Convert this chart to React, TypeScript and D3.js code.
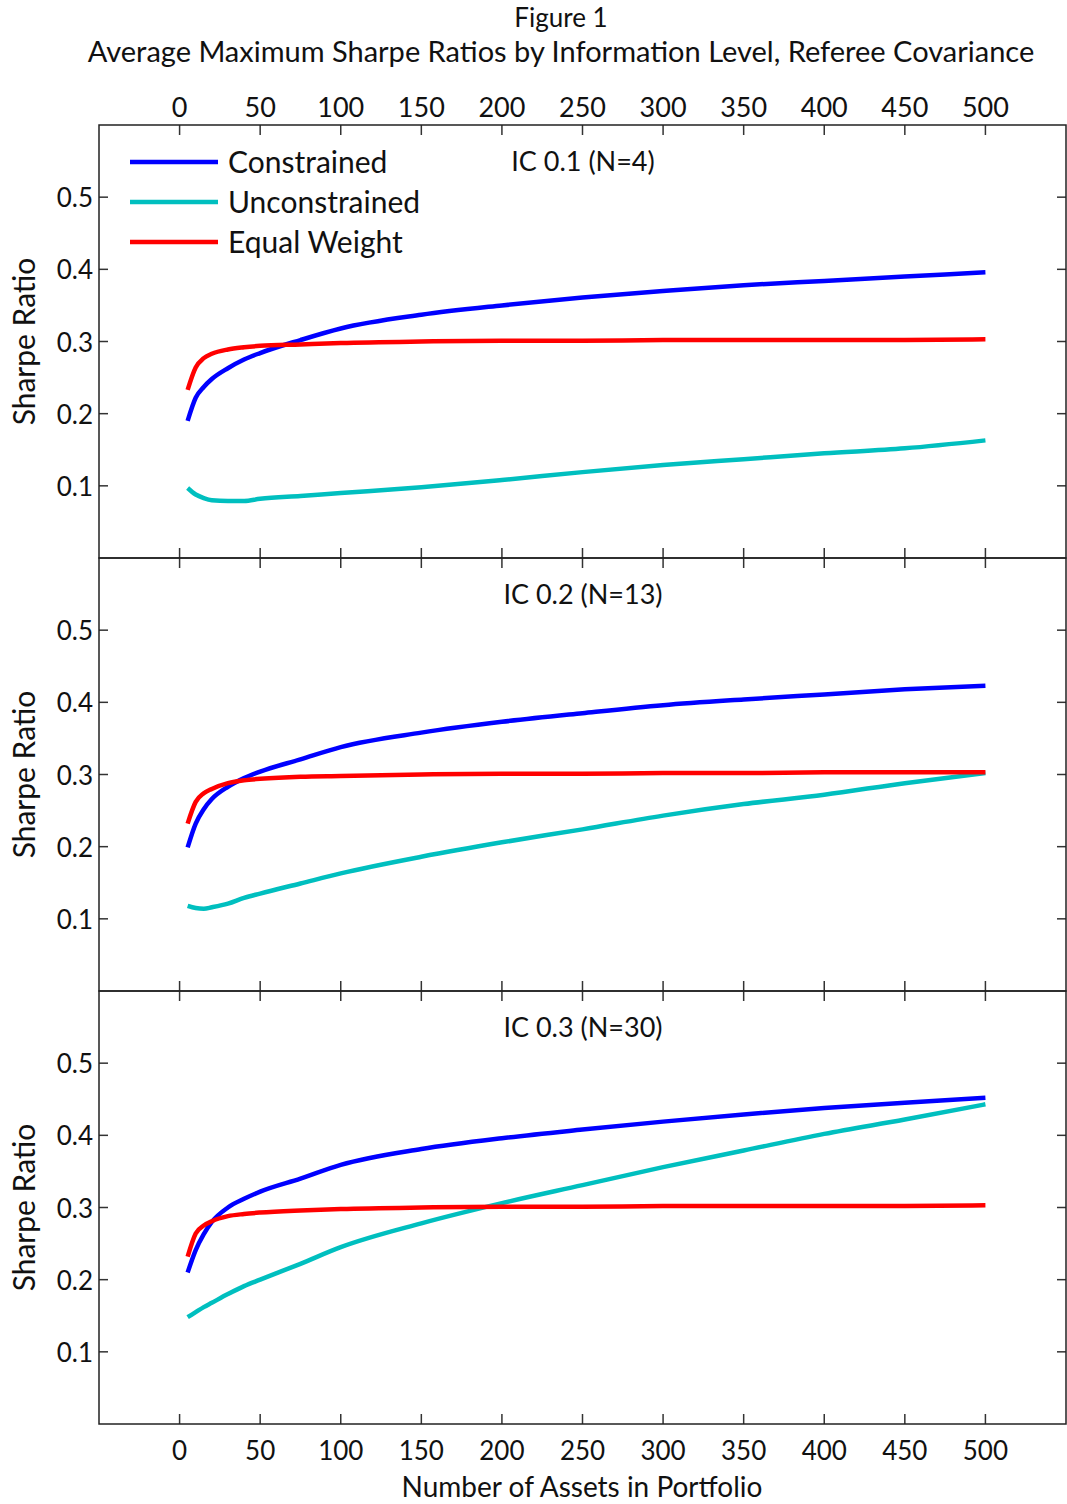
import React from "react";
import * as d3 from "d3";

const assets = [5, 10, 15, 20, 30, 40, 50, 75, 100, 150, 200, 250, 300, 350, 400, 450, 500];
const xTicks = [0, 50, 100, 150, 200, 250, 300, 350, 400, 450, 500];
const yTicks = [0.1, 0.2, 0.3, 0.4, 0.5];
const seriesNames = ["Constrained", "Unconstrained", "Equal Weight"];
const seriesColors = ["#0000ff", "#00bfbf", "#ff0000"];
const panelTitles = ["IC 0.1 (N=4)", "IC 0.2 (N=13)", "IC 0.3 (N=30)"];

// Panel 1: IC 0.1
const constrained1 = [0.190, 0.222, 0.237, 0.248, 0.263, 0.275, 0.284, 0.302, 0.318, 0.337, 0.350, 0.361, 0.370, 0.378, 0.384, 0.390, 0.396];
const unconstrained1 = [0.097, 0.088, 0.083, 0.080, 0.079, 0.079, 0.082, 0.086, 0.090, 0.098, 0.108, 0.119, 0.129, 0.137, 0.145, 0.152, 0.163];
const equal1 = [0.233, 0.264, 0.277, 0.283, 0.289, 0.292, 0.294, 0.296, 0.298, 0.300, 0.301, 0.301, 0.302, 0.302, 0.302, 0.302, 0.303];
// Panel 2: IC 0.2
const constrained2 = [0.199, 0.232, 0.252, 0.266, 0.283, 0.295, 0.304, 0.321, 0.338, 0.358, 0.373, 0.385, 0.396, 0.404, 0.411, 0.418, 0.423];
const unconstrained2 = [0.118, 0.115, 0.114, 0.116, 0.121, 0.129, 0.135, 0.149, 0.163, 0.186, 0.206, 0.224, 0.243, 0.259, 0.272, 0.288, 0.302];
const equal2 = [0.232, 0.262, 0.274, 0.280, 0.288, 0.292, 0.294, 0.297, 0.298, 0.300, 0.301, 0.301, 0.302, 0.302, 0.303, 0.303, 0.303];
// Panel 3: IC 0.3
const constrained3 = [0.210, 0.241, 0.263, 0.280, 0.300, 0.312, 0.322, 0.340, 0.359, 0.381, 0.396, 0.408, 0.419, 0.429, 0.438, 0.445, 0.452];
const unconstrained3 = [0.148, 0.155, 0.162, 0.168, 0.180, 0.191, 0.200, 0.222, 0.245, 0.278, 0.306, 0.331, 0.356, 0.379, 0.402, 0.422, 0.443];
const equal3 = [0.232, 0.264, 0.275, 0.281, 0.288, 0.291, 0.293, 0.296, 0.298, 0.300, 0.301, 0.301, 0.302, 0.302, 0.302, 0.302, 0.303];

const panels = [
  [constrained1, unconstrained1, equal1],
  [constrained2, unconstrained2, equal2],
  [constrained3, unconstrained3, equal3],
];

const W = 1067;
const H = 1504;
const left = 99;
const right = 1066;
const top = 125;
const panelH = 433;
const FONT = "Lato, 'Open Sans', sans-serif";

export default function App() {
  const x = d3.scaleLinear().domain([-50, 550]).range([left, right]);
  const tick = 10;
  return (
    <svg width={W} height={H} style={{ position: "absolute", left: 0, top: 0, background: "#fff" }} fontFamily={FONT}>
      <text x={561} y={27} fontSize={26} textAnchor="middle" fill="#111">Figure 1</text>
      <text x={561} y={62} fontSize={29} textAnchor="middle" fill="#111">
        Average Maximum Sharpe Ratios by Information Level, Referee Covariance
      </text>
      {xTicks.map((t) => (
        <text key={"tt" + t} x={x(t)} y={117} fontSize={27} textAnchor="middle" fill="#111">{t}</text>
      ))}
      {xTicks.map((t) => (
        <text key={"bt" + t} x={x(t)} y={1460} fontSize={26} textAnchor="middle" fill="#111">{t}</text>
      ))}
      <text x={582} y={1497} fontSize={28} textAnchor="middle" fill="#111">Number of Assets in Portfolio</text>
      {panels.map((series, pi) => {
        const y0 = top + pi * panelH;
        const y = d3.scaleLinear().domain([0, 0.6]).range([y0 + panelH, y0]);
        const line = d3
          .line<number>()
          .x((_, i) => x(assets[i]))
          .y((v) => y(v))
          .curve(d3.curveMonotoneX);
        return (
          <g key={pi}>
            <text
              transform={`translate(35,${y0 + panelH / 2}) rotate(-90)`}
              fontSize={30}
              textAnchor="middle"
              fill="#111"
            >
              Sharpe Ratio
            </text>
            {yTicks.map((t) => (
              <g key={t}>
                <line x1={left} x2={left + 9} y1={y(t)} y2={y(t)} stroke="#333" strokeWidth={1.5} />
                <line x1={right - 9} x2={right} y1={y(t)} y2={y(t)} stroke="#333" strokeWidth={1.5} />
                <text x={93} y={y(t) + 10} fontSize={26} textAnchor="end" fill="#111">{t.toFixed(1)}</text>
              </g>
            ))}
            {xTicks.map((t) => (
              <g key={"x" + t}>
                <line x1={x(t)} x2={x(t)} y1={y0} y2={y0 + tick} stroke="#333" strokeWidth={1.5} />
                <line x1={x(t)} x2={x(t)} y1={y0 + panelH} y2={y0 + panelH - tick} stroke="#333" strokeWidth={1.5} />
              </g>
            ))}
            <text x={583} y={y0 + 46} fontSize={27} textAnchor="middle" fill="#111">{panelTitles[pi]}</text>
            {series.map((vals, si) => (
              <path key={si} d={line(vals) || ""} fill="none" stroke={seriesColors[si]} strokeWidth={4.5} strokeLinejoin="round" />
            ))}
            <rect x={left} y={y0} width={right - left} height={panelH} fill="none" stroke="#222" strokeWidth={1.5} />
          </g>
        );
      })}
      {seriesNames.map((n, i) => (
        <g key={n}>
          <line x1={130} x2={218} y1={162 + i * 40} y2={162 + i * 40} stroke={seriesColors[i]} strokeWidth={4.5} />
          <text x={228} y={173 + i * 40} fontSize={30} fill="#111">{n}</text>
        </g>
      ))}
    </svg>
  );
}
